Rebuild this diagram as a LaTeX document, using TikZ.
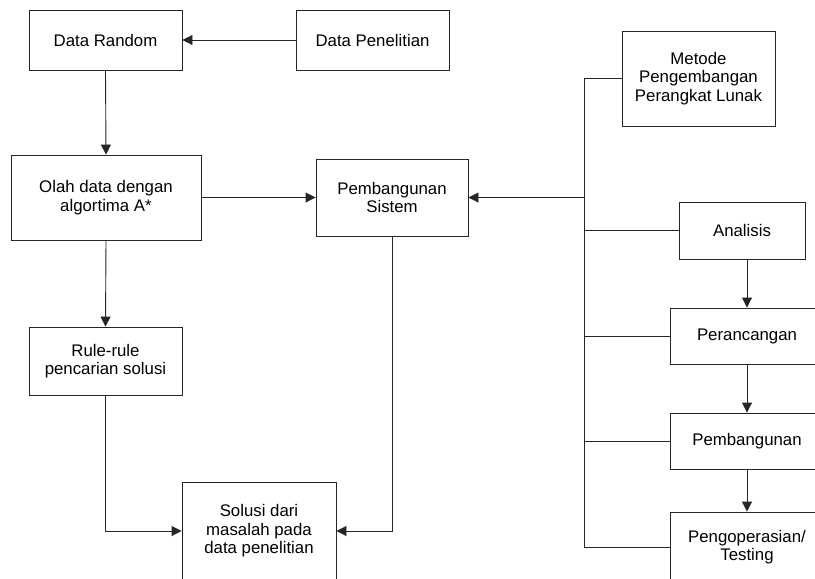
\documentclass[tikz,border=0pt]{standalone}
\usepackage{fontspec}
\setmainfont{Liberation Sans}
\usetikzlibrary{arrows.meta}
\begin{document}
\begin{tikzpicture}[x=1pt,y=-1pt,
  box/.style={draw=black!85,line width=0.9pt,fill=white,inner sep=0pt,align=center,
    font=\fontsize{16.8}{18.5}\selectfont},
  conn/.style={draw=black!85,line width=0.9pt},
  arr/.style={conn,-{Triangle[length=10pt,width=10pt]}}]
\useasboundingbox (0,0) rectangle (815,579);
\clip (0,0) rectangle (815,579);
\fill[white] (0,0) rectangle (815,579);
% nodes
\node[box,minimum width=153,minimum height=60] (dr) at (105.5,40) {Data Random};
\node[box,minimum width=153,minimum height=60] (dp) at (372.5,40) {Data Penelitian};
\node[box,minimum width=190,minimum height=85] (olah) at (106,197.5) {Olah data dengan\\algortima A*};
\node[box,minimum width=152,minimum height=77] (ps) at (392,197.5) {Pembangunan\\Sistem};
\node[box,minimum width=153,minimum height=68] (rule) at (105.5,361) {Rule-rule\\pencarian solusi};
\node[box,minimum width=154,minimum height=98] (sol) at (259,531) {Solusi dari\\masalah pada\\data penelitian};
\node[box,minimum width=153,minimum height=95] (met) at (698.5,78.5) {Metode\\Pengembangan\\Perangkat Lunak};
\node[box,minimum width=126,minimum height=57] (ana) at (742,230.5) {Analisis};
\node[box,minimum width=154,minimum height=56] (per) at (747,336) {Perancangan};
\node[box,minimum width=154,minimum height=56] (pem) at (747,441) {Pembangunan};
\node[box,minimum width=154,minimum height=70] (peng) at (747,547) {Pengoperasian/\\Testing};
% bus coordinates
\coordinate (bt) at (584,78.5);
\coordinate (bb) at (584,547);
\coordinate (lj) at (105.5,531);
\coordinate (rj) at (392,531);
% connectors
\draw[arr] (dp.west) -- (dr.east);
\draw[arr] (dr.south) -- (olah.north);
\draw[arr] (olah.east) -- (ps.west);
\draw[arr] (olah.south) -- (rule.north);
\draw[arr] (rule.south) -- (lj) -- (sol.west);
\draw[arr] (ps.south) -- (rj) -- (sol.east);
\draw[conn] (met.west) -- (bt) -- (bb) -- (peng.west);
\draw[arr] (bt |- ps.east) -- (ps.east);
\draw[conn] (ana.west) -- (ana.west -| bt);
\draw[conn] (per.west) -- (per.west -| bt);
\draw[conn] (pem.west) -- (pem.west -| bt);
\draw[arr] (ana.south -| per.north) -- (per.north);
\draw[arr] (per.south) -- (pem.north);
\draw[arr] (pem.south) -- (peng.north);
\end{tikzpicture}
\end{document}
